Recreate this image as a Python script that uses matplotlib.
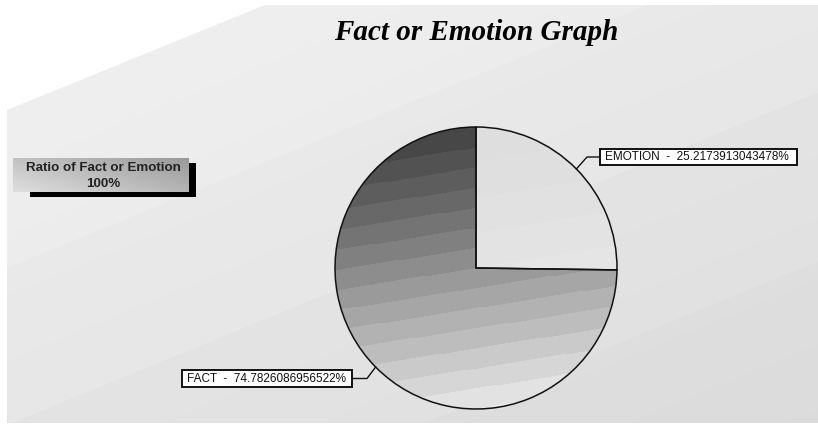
import numpy as np
import matplotlib
matplotlib.use("Agg")
import matplotlib.pyplot as plt
from matplotlib.patches import Polygon, Rectangle
from matplotlib.colors import LinearSegmentedColormap

W, H = 818, 426

title = "Fact or Emotion Graph"
categories = ["EMOTION", "FACT"]
values = [25.2173913043478, 74.7826086956522]
legend_lines = ["Ratio of Fact or Emotion", "100%"]

fig = plt.figure(figsize=(W / 100, H / 100), dpi=100)
ax = fig.add_axes([0, 0, 1, 1])


def Y(y):
    # pixel rows measured from the top
    return H - y


# slanted back panel with soft diagonal bands
panel = Polygon([(7, Y(110)), (265, Y(5)), (W, Y(5)), (W, Y(423)), (7, Y(423))],
                closed=True, facecolor="none", edgecolor="none")
ax.add_patch(panel)
xx, yy = np.meshgrid(np.arange(W), np.arange(H))
d = yy + 0.41 * xx  # distance across the bands (rows from top)
shade = 0.94 - 0.00006 * d
for edge, step in [(270, 0.012), (427, 0.012), (596, 0.012)]:
    shade -= np.where(d > edge, step, 0)
bg = ax.imshow(shade, cmap="gray", vmin=0, vmax=1, extent=(0, W, 0, H),
               origin="upper", zorder=0, interpolation="bilinear")
bg.set_clip_path(panel)

# pie
cx, cy, r = 476, Y(268), 141
wedges, _ = ax.pie(values, center=(cx, cy), radius=r, startangle=90,
                   counterclock=False,
                   wedgeprops=dict(edgecolor="#111111", linewidth=1.1),
                   colors=["none", "none"])
for w in wedges:
    w.set_zorder(3)

gx, gy = np.meshgrid(np.linspace(cx - r, cx + r, 300), np.linspace(cy + r, cy - r, 300))
tilt = np.tan(np.radians(9))
t = ((cy + r) - gy + tilt * (gx - cx)) / (2 * r)
t = np.clip(t, 0, 1)
bands = np.floor(t * 14) / 14
fact_cmap = LinearSegmentedColormap.from_list("fact", ["#474747", "#6e6e6e", "#9a9a9a", "#c4c4c4", "#eeeeee"])
img = ax.imshow(bands, cmap=fact_cmap, vmin=0, vmax=1, extent=(cx - r, cx + r, cy - r, cy + r),
                zorder=2, interpolation="nearest")
img.set_clip_path(wedges[1])

emo_cmap = LinearSegmentedColormap.from_list("emo", ["#dedede", "#ededed"])
img2 = ax.imshow(np.floor(t * 8) / 8, cmap=emo_cmap, vmin=0, vmax=1,
                 extent=(cx - r, cx + r, cy - r, cy + r), zorder=2, interpolation="nearest")
img2.set_clip_path(wedges[0])

# slice labels in boxed tags, leader lines from each wedge's middle
label_boxes = {"EMOTION": (600, 797, 149, 165), "FACT": (182, 352, 370, 387)}
for w, name, val in zip(wedges, categories, values):
    mid = np.radians((w.theta1 + w.theta2) / 2)
    px, py = cx + r * np.cos(mid), cy + r * np.sin(mid)
    x0, x1, top, bot = label_boxes[name]
    by = Y((top + bot) / 2)
    if px > cx:
        bx, kx = x0, x0 - 13
    else:
        bx, kx = x1, x1 + 15
    ax.plot([px, kx, bx], [py, by, by], color="#111111", lw=1.0, zorder=4)
    ax.add_patch(Rectangle((x0, Y(bot)), x1 - x0, bot - top, facecolor="white",
                           edgecolor="#111111", lw=1.4, zorder=5))
    ax.text(x0 + 5, by, f"{name}  -  {val}%", ha="left", va="center", fontsize=8.5,
            family="Liberation Sans", color="#111111", zorder=6)

# legend tag with drop shadow
ax.add_patch(Rectangle((30, Y(197)), 166, 34, facecolor="black", edgecolor="none", zorder=3))
tag = Rectangle((13, Y(192)), 176, 34, facecolor="none", edgecolor="none", zorder=4)
ax.add_patch(tag)
lx, ly = np.meshgrid(np.linspace(0, 1, 100), np.linspace(0, 1, 30))
tag_img = ax.imshow(0.6 * lx + 0.4 * (1 - ly), cmap=LinearSegmentedColormap.from_list("tag", ["#dedede", "#9a9a9a"]),
                    extent=(13, 189, Y(192), Y(158)), zorder=4, origin="upper")
tag_img.set_clip_path(tag)
ax.text(103, Y(168), legend_lines[0], ha="center", va="center", fontsize=9.6,
        family="Liberation Sans", weight="bold", color="#222222", zorder=5)
ax.text(103, Y(184), legend_lines[1], ha="center", va="center", fontsize=9.6,
        family="Liberation Sans", weight="bold", color="#222222", zorder=5)

ax.text(476, Y(33), title, ha="center", va="center", fontsize=21,
        family="Liberation Serif", weight="bold", style="italic", color="black", zorder=5)

ax.set_xlim(0, W)
ax.set_ylim(0, H)
ax.set_aspect("auto")
ax.axis("off")
fig.savefig("out.png", dpi=100, facecolor="white")
